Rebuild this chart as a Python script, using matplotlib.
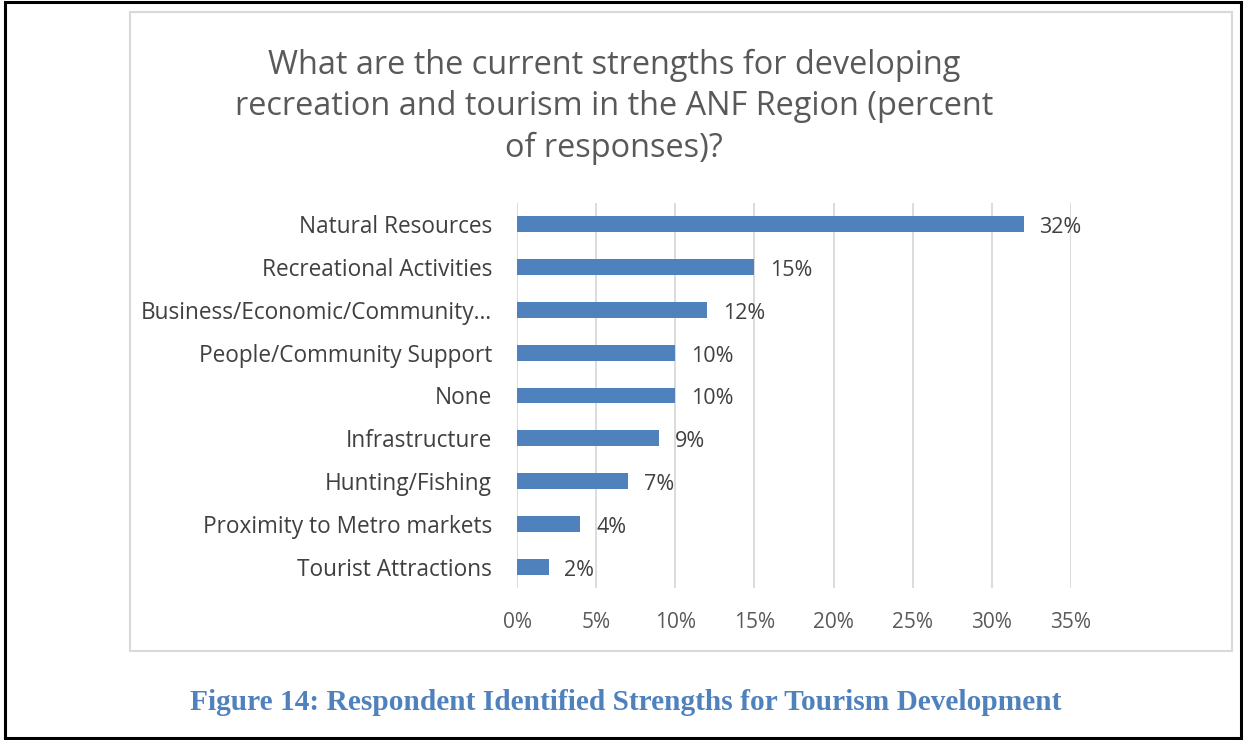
import matplotlib.pyplot as plt
from matplotlib.patches import Rectangle

# survey answers, percent of responses
categories = ["Natural Resources", "Recreational Activities", "Business/Economic/Community…",
              "People/Community Support", "None", "Infrastructure", "Hunting/Fishing",
              "Proximity to Metro markets", "Tourist Attractions"]
values = [32, 15, 12, 10, 10, 9, 7, 4, 2]
xticks = [0, 5, 10, 15, 20, 25, 30, 35]

W, H = 1246, 740
fig = plt.figure(figsize=(W / 100, H / 100), dpi=100)
plt.rcParams['font.family'] = ['Open Sans', 'DejaVu Sans']
grey = '#595959'
blue = '#4F81BD'

# page border + chart frame
fig.add_artist(Rectangle((5 / W, 1 - 738 / H), 1236 / W, 736 / H, transform=fig.transFigure,
                         fill=False, ec='black', lw=2.2))
fig.add_artist(Rectangle((130 / W, 1 - 651 / H), 1102 / W, 639 / H, transform=fig.transFigure,
                         fill=False, ec='#D9D9D9', lw=1.5))

ax = fig.add_axes([517 / W, 1 - 588 / H, (1071 - 517) / W, (588 - 203) / H])
y = list(range(len(categories)))
ax.barh(y, values, height=0.37, color=blue, zorder=3)
for yi, v in zip(y, values):
    ax.text(v + 1.0, yi + 0.08, f"{v}%", va='center', ha='left', fontsize=15.5, color='#404040')

ax.set_xlim(0, 35)
ax.set_ylim(len(categories) - 0.5, -0.5)
ax.set_xticks(xticks)
ax.set_xticklabels([f"{t}%" for t in xticks], fontsize=15, color=grey)
ax.set_yticks(y)
ax.set_yticklabels(categories, fontsize=16.3, color='#404040')
ax.tick_params(length=0)
ax.tick_params(axis='x', pad=17)
ax.tick_params(axis='y', pad=18)
ax.grid(axis='x', color='#D9D9D9', lw=1.3, zorder=0)
for s in ax.spines.values():
    s.set_visible(False)

fig.text(614 / W, 1 - 107 / H,
         "What are the current strengths for developing\nrecreation and tourism in the ANF Region (percent\nof responses)?",
         ha='center', va='center', fontsize=23.4, color=grey, linespacing=1.34)

fig.text(626 / W, 1 - 703 / H, "Figure 14: Respondent Identified Strengths for Tourism Development",
         ha='center', va='center', fontsize=21.2, fontweight='bold', color=blue,
         family=['Liberation Serif', 'DejaVu Serif'])

fig.savefig('out.png', dpi=100)
